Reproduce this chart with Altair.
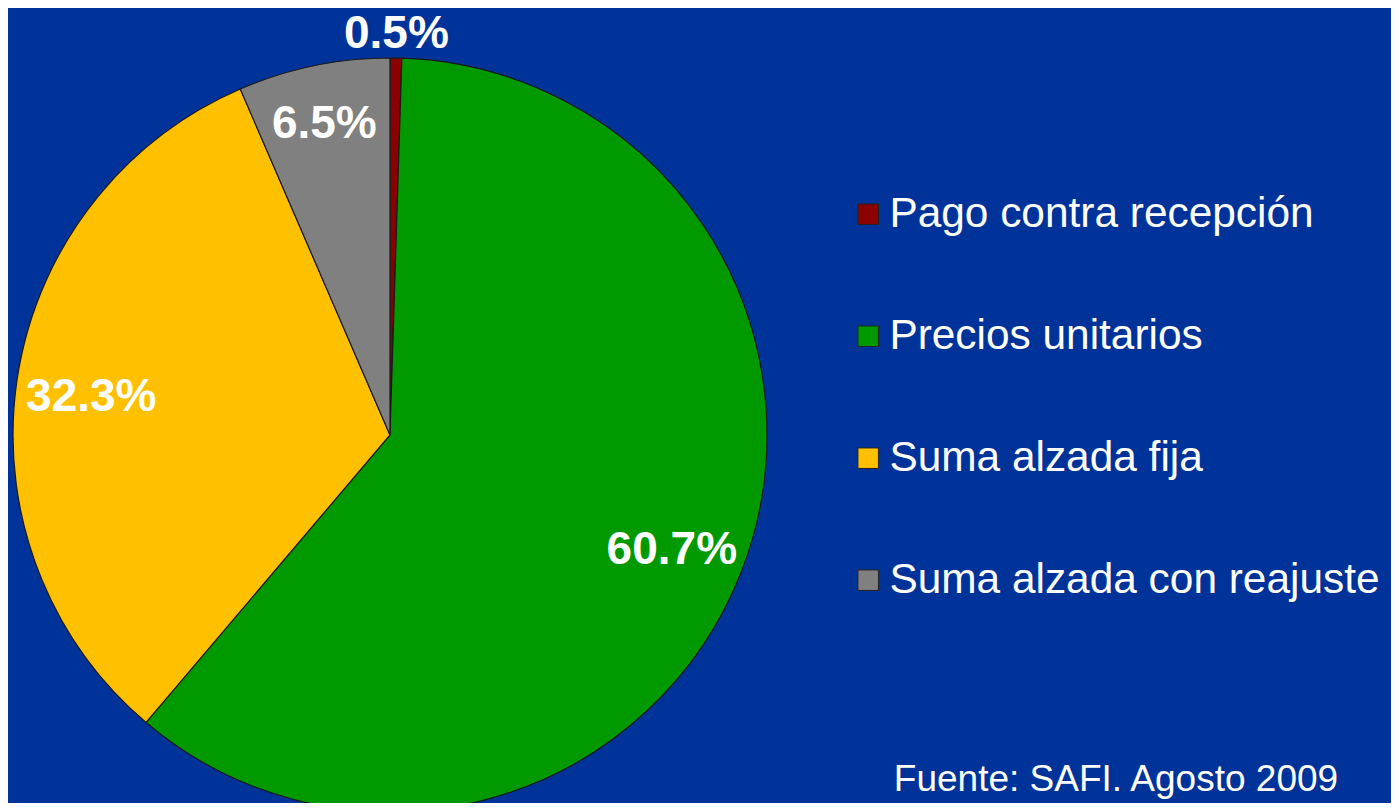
import altair as alt
import pandas as pd

categories = ["Pago contra recepción", "Precios unitarios", "Suma alzada fija", "Suma alzada con reajuste"]
values = [0.5, 60.7, 32.3, 6.5]
labels = ["0.5%", "60.7%", "32.3%", "6.5%"]
colors = ["#8B0000", "#009900", "#FFC000", "#808080"]
source_note = "Fuente: SAFI. Agosto 2009"

df = pd.DataFrame({"category": categories, "value": values, "label": labels,
                   "order": list(range(len(categories)))})

FONT = "Liberation Sans"
CX, CY, R = 382, 427, 377

base = alt.Chart(df).encode(
    theta=alt.Theta("value:Q", stack=True),
    order=alt.Order("order:Q"),
)

pie = base.mark_arc(outerRadius=R, stroke="#1a1a1a", strokeWidth=1.2).encode(
    x=alt.value(CX), y=alt.value(CY),
    color=alt.Color("category:N",
                    scale=alt.Scale(domain=categories, range=colors),
                    sort=categories,
                    legend=alt.Legend(
                        title=None, orient="none", legendX=839, legendY=185,
                        symbolType="square", symbolSize=420,
                        symbolStrokeColor="#222222", symbolStrokeWidth=1,
                        labelFont=FONT, labelFontSize=42.4, labelColor="white",
                        labelLimit=0, rowPadding=79, labelOffset=0,
                    )),
)

radius_expr = (
    f"datum.category == '{categories[0]}' ? 407 : "
    f"(datum.category == '{categories[3]}' ? 324 : 302)"
)

text = base.mark_text(radius=alt.expr(radius_expr), font=FONT, fontSize=46,
                      fontWeight="bold", color="white", dy=6,
                      align="center", baseline="middle").encode(
    x=alt.value(CX), y=alt.value(CY), text="label:N"
)

foot = alt.Chart(pd.DataFrame({"t": [source_note]})).mark_text(
    font=FONT, fontSize=37, color="white", align="center", baseline="middle"
).encode(x=alt.value(1108), y=alt.value(772), text="t:N")

chart = alt.layer(pie, text, foot).properties(
    width=1383, height=795, background="#003399",
    autosize=alt.AutoSizeParams(type="none"), padding=0,
).configure_view(stroke=None)

chart.save("out.html", embed_options={"renderer": "svg", "actions": False})
